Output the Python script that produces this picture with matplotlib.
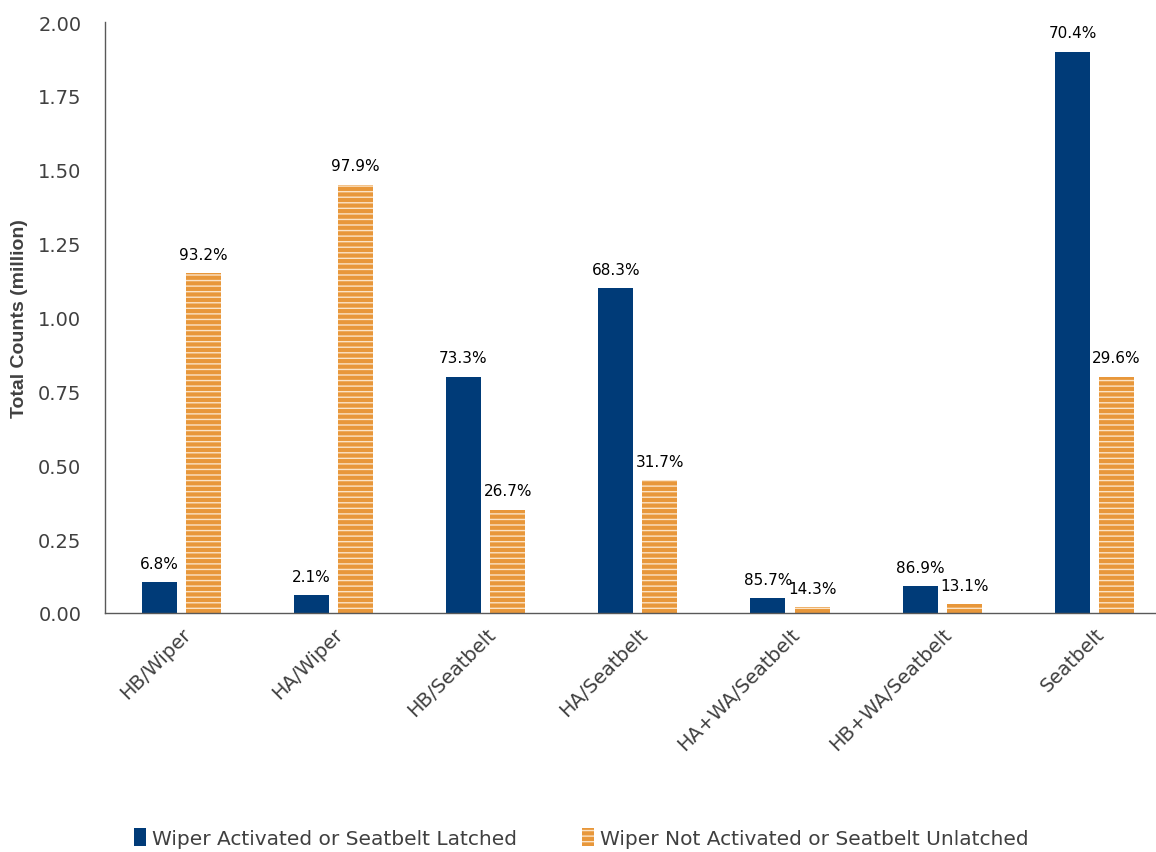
import numpy as np
import matplotlib
matplotlib.use('Agg')
import matplotlib.pyplot as plt

categories = ['HB/Wiper', 'HA/Wiper', 'HB/Seatbelt', 'HA/Seatbelt',
              'HA+WA/Seatbelt', 'HB+WA/Seatbelt', 'Seatbelt']
latched = [0.105, 0.06, 0.80, 1.10, 0.05, 0.09, 1.90]  # million
unlatched = [1.15, 1.45, 0.35, 0.45, 0.02, 0.03, 0.80]
latched_pct = ['6.8%', '2.1%', '73.3%', '68.3%', '85.7%', '86.9%', '70.4%']
unlatched_pct = ['93.2%', '97.9%', '26.7%', '31.7%', '14.3%', '13.1%', '29.6%']
yticks = [0.0, 0.25, 0.5, 0.75, 1.0, 1.25, 1.5, 1.75, 2.0]

blue = '#003B78'
orange = '#E8973A'
grey = '#404040'

plt.rcParams['font.family'] = 'DejaVu Sans'
plt.rcParams['hatch.linewidth'] = 1.0

fig = plt.figure(figsize=(11.56, 8.53), dpi=100)
ax = fig.add_axes([0.0908, 0.2802, 0.9087, 0.6928])

x = np.arange(len(categories))
w = 0.23
off = 0.145
b1 = ax.bar(x - off, latched, w, color=blue, linewidth=0,
            label='Wiper Activated or Seatbelt Latched')
b2 = ax.bar(x + off, unlatched, w, color=orange, edgecolor='#FBE3C6', linewidth=0,
            hatch='---', label='Wiper Not Activated or Seatbelt Unlatched')

# percentage labels above each bar
for bars, labels in [(b1, latched_pct), (b2, unlatched_pct)]:
    for rect, lab in zip(bars, labels):
        ax.annotate(lab, (rect.get_x() + rect.get_width() / 2, rect.get_height()),
                    xytext=(0, 8), textcoords='offset points',
                    ha='center', va='bottom', fontsize=11, color='black')

ax.set_xlim(-0.5, 6.40)
ax.set_ylim(0, 2.0)
ax.set_yticks(yticks)
ax.set_yticklabels(['{:.2f}'.format(v) for v in yticks], fontsize=14, color=grey)
ax.set_xticks(x)
ax.set_xticklabels(categories, rotation=45, ha='right', rotation_mode='anchor',
                   fontsize=14, color=grey)
ax.tick_params(axis='both', length=0)
ax.tick_params(axis='y', pad=17)
ax.tick_params(axis='x', pad=8)
for s in ['top', 'right']:
    ax.spines[s].set_visible(False)
for s in ['left', 'bottom']:
    ax.spines[s].set_color('#595959')
    ax.spines[s].set_linewidth(1.0)

ax.set_ylabel('Total Counts (million)', fontsize=14, fontweight='bold',
              family='Liberation Sans', color=grey, labelpad=7)

fig.legend(handles=[b1, b2], loc='lower center', bbox_to_anchor=(0.503, -0.017),
           ncol=2, frameon=False, fontsize=14.5, handlelength=0.6, handleheight=1.0,
           handletextpad=0.3, columnspacing=3.2, labelcolor=grey)

fig.savefig('out.png', dpi=100)
